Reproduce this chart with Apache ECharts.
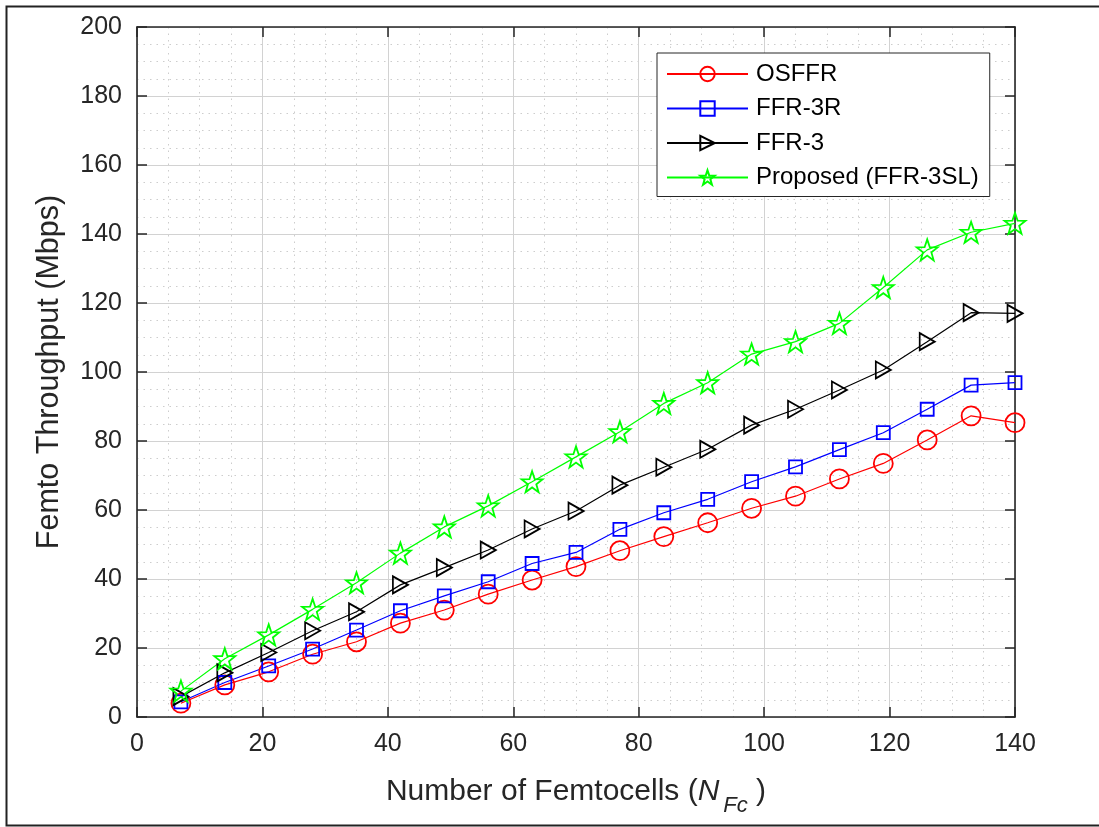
<!DOCTYPE html>
<html>
<head>
<meta charset="utf-8">
<script src="https://cdn.jsdelivr.net/npm/echarts@6/dist/echarts.min.js"></script>
<style>
html, body { margin: 0; padding: 0; background: #fff; }
#main { width: 1099px; height: 827px; }
</style>
</head>
<body>
<div id="main"></div>
<script>
// number of femtocells
var xVals = [7, 14, 21, 28, 35, 42, 49, 56, 63, 70, 77, 84, 91, 98, 105, 112, 119, 126, 133, 140];

var osffr    = [4.0, 9.3, 13.1, 18.2, 21.8, 27.2, 31.0, 35.6, 39.7, 43.6, 48.2, 52.3, 56.3, 60.5, 64.0, 69.0, 73.5, 80.3, 87.3, 85.3];
var ffr3r    = [4.4, 10.0, 14.8, 19.7, 25.2, 30.8, 35.1, 39.2, 44.5, 47.7, 54.4, 59.2, 63.1, 68.2, 72.5, 77.5, 82.4, 89.2, 96.2, 96.9];
var ffr3     = [5.9, 12.8, 18.7, 25.0, 30.5, 38.3, 43.3, 48.4, 54.5, 59.7, 67.2, 72.4, 77.6, 84.6, 89.2, 94.8, 100.6, 108.8, 117.2, 117.0];
var proposed = [7.5, 16.9, 23.8, 31.2, 38.9, 47.5, 55.1, 61.2, 68.2, 75.4, 82.7, 90.9, 96.9, 105.2, 108.8, 114.1, 124.5, 135.4, 140.5, 143.1];

var names = ['OSFFR', 'FFR-3R', 'FFR-3', 'Proposed (FFR-3SL)'];

function pairs(ys) {
	var out = [];
	for (var i = 0; i < xVals.length; i++) {
		out.push([xVals[i], ys[i]]);
	}
	return out;
}

var FONT = 'Liberation Sans, Arial, sans-serif';
var starPath = 'path://M0,-10L2.35,-3.24L9.51,-3.09L3.8,1.24L5.88,8.09L0,4L-5.88,8.09L-3.8,1.24L-9.51,-3.09L-2.35,-3.24Z';

function mkSeries(name, ys, color, symbol, size, rotate) {
	return {
		name : name,
		type : 'line',
		data : pairs(ys),
		symbol : symbol,
		symbolSize : size,
		symbolRotate : rotate || 0,
		showAllSymbol : true,
		lineStyle : { color : color, width : 1.2 },
		itemStyle : { color : 'rgba(255,255,255,0)', borderColor : color, borderWidth : 1.8 },
		emphasis : { disabled : true },
		animation : false,
		z : 3
	};
}

// ticks drawn inward (MATLAB style)
var tickIn = { show : true, inside : false, length : -10, lineStyle : { color : '#262626', width : 1.5 } };
var boxLine = { show : true, onZero : false, lineStyle : { color : '#262626', width : 1.6 } };
var majorGrid = { show : true, lineStyle : { color : '#d2d2d2', width : 1 } };
var minorGrid = { show : true, lineStyle : { color : '#cdcdcd', type : [1.5, 5], width : 1 } };

var dom = document.getElementById('main');
var myChart = echarts.init(dom);

var option = {
	animation : false,
	backgroundColor : '#fff',
	grid : { left : 137, right : 84, top : 27, bottom : 110, show : false },
	legend : {
		orient : 'vertical',
		left : 657,
		top : 53,
		padding : [9, 11, 7, 9],
		itemWidth : 81,
		itemHeight : 18,
		itemGap : 10.5,
		backgroundColor : '#fff',
		borderColor : '#262626',
		borderWidth : 1,
		textStyle : { color : '#000', fontSize : 24, lineHeight : 24, fontFamily : FONT, padding : [0, 0, 0, 3] },
		data : names
	},
	xAxis : [ {
		type : 'value',
		min : 0,
		max : 140,
		interval : 20,
		name : 'Number of Femtocells ({i|N}{s|Fc} )',
		nameLocation : 'middle',
		nameGap : 50,
		nameTextStyle : {
			color : '#262626', fontSize : 30, fontFamily : FONT,
			rich : {
				i : { fontStyle : 'italic', fontSize : 30, color : '#262626', fontFamily : FONT },
				s : { fontStyle : 'italic', fontSize : 22, color : '#262626', padding : [28, 0, 0, 4], fontFamily : FONT }
			}
		},
		axisLine : boxLine,
		axisTick : tickIn,
		axisLabel : { margin : 15, color : '#262626', fontSize : 25, fontFamily : FONT },
		splitLine : majorGrid,
		minorTick : { show : false, splitNumber : 4 },
		minorSplitLine : minorGrid
	}, {
		type : 'value',
		position : 'top',
		min : 0,
		max : 140,
		interval : 20,
		axisLine : boxLine,
		axisTick : tickIn,
		axisLabel : { show : false },
		splitLine : { show : false }
	} ],
	yAxis : [ {
		type : 'value',
		min : 0,
		max : 200,
		interval : 20,
		name : 'Femto Throughput (Mbps)',
		nameLocation : 'middle',
		nameGap : 72,
		nameTextStyle : { color : '#262626', fontSize : 30.5, fontFamily : FONT },
		axisLine : boxLine,
		axisTick : tickIn,
		axisLabel : { margin : 15, color : '#262626', fontSize : 25, fontFamily : FONT },
		splitLine : majorGrid,
		minorTick : { show : false, splitNumber : 4 },
		minorSplitLine : minorGrid
	}, {
		type : 'value',
		position : 'right',
		min : 0,
		max : 200,
		interval : 20,
		axisLine : boxLine,
		axisTick : tickIn,
		axisLabel : { show : false },
		splitLine : { show : false }
	} ],
	graphic : [ {
		type : 'polyline',
		shape : { points : [ [1099, 6.5], [6.5, 6.5], [6.5, 825.5], [1099, 825.5] ] },
		style : { stroke : '#222', lineWidth : 2, fill : null },
		silent : true
	} ],
	series : [
		mkSeries(names[0], osffr, '#ff0000', 'circle', 19),
		mkSeries(names[1], ffr3r, '#0000ff', 'rect', 13),
		mkSeries(names[2], ffr3, '#000000', 'triangle', [17, 15], -90),
		mkSeries(names[3], proposed, '#00ff00', starPath, 21)
	]
};

if (option && typeof option === "object") {
	myChart.setOption(option, true);
}
</script>
</body>
</html>
